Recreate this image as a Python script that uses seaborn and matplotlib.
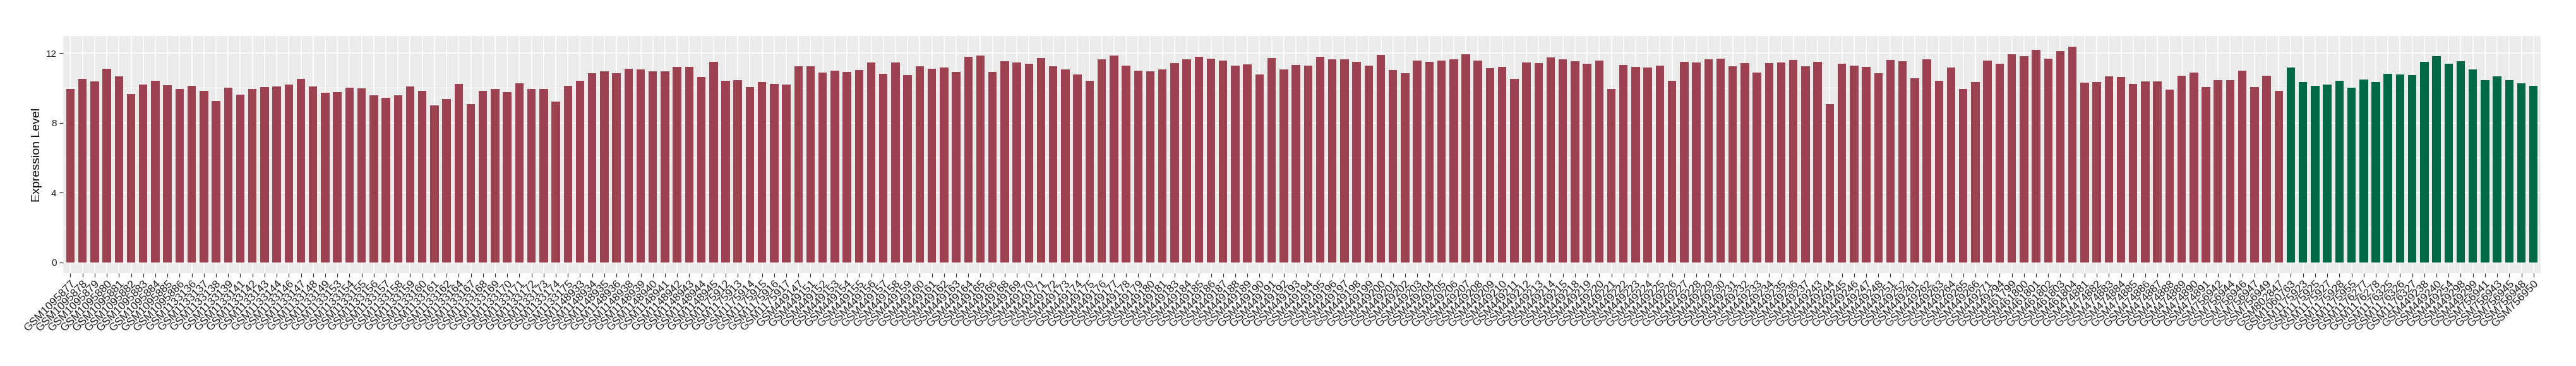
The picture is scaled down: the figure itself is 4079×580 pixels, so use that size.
import pandas as pd
import numpy as np
import matplotlib
matplotlib.use("Agg")
import matplotlib.pyplot as plt
import matplotlib.ticker as mticker
import seaborn as sns

# sample names, first group (red) then second group (green)
red_samples = [
    "GSM1095877", "GSM1095878", "GSM1095879", "GSM1095880", "GSM1095881",
    "GSM1095882", "GSM1095883", "GSM1095884", "GSM1095885", "GSM1095886",
    "GSM1133136", "GSM1133137", "GSM1133138", "GSM1133139", "GSM1133141",
    "GSM1133142", "GSM1133143", "GSM1133144", "GSM1133146", "GSM1133147",
    "GSM1133148", "GSM1133149", "GSM1133153", "GSM1133154", "GSM1133155",
    "GSM1133156", "GSM1133157", "GSM1133158", "GSM1133159", "GSM1133160",
    "GSM1133161", "GSM1133162", "GSM1133164", "GSM1133167", "GSM1133168",
    "GSM1133169", "GSM1133170", "GSM1133171", "GSM1133172", "GSM1133173",
    "GSM1133174", "GSM1133175", "GSM1148933", "GSM1148934", "GSM1148935",
    "GSM1148936", "GSM1148938", "GSM1148939", "GSM1148940", "GSM1148941",
    "GSM1148942", "GSM1148943", "GSM1148944", "GSM1148945", "GSM1175912",
    "GSM1175913", "GSM1175914", "GSM1175915", "GSM1175916", "GSM1175917",
    "GSM449147", "GSM449151", "GSM449152", "GSM449153", "GSM449154",
    "GSM449155", "GSM449156", "GSM449157", "GSM449158", "GSM449159",
    "GSM449160", "GSM449161", "GSM449162", "GSM449163", "GSM449164",
    "GSM449165", "GSM449166", "GSM449168", "GSM449169", "GSM449170",
    "GSM449171", "GSM449172", "GSM449173", "GSM449174", "GSM449175",
    "GSM449176", "GSM449177", "GSM449178", "GSM449179", "GSM449180",
    "GSM449181", "GSM449183", "GSM449184", "GSM449185", "GSM449186",
    "GSM449187", "GSM449188", "GSM449189", "GSM449190", "GSM449191",
    "GSM449192", "GSM449193", "GSM449194", "GSM449195", "GSM449196",
    "GSM449197", "GSM449198", "GSM449199", "GSM449200", "GSM449201",
    "GSM449202", "GSM449203", "GSM449204", "GSM449205", "GSM449206",
    "GSM449207", "GSM449208", "GSM449209", "GSM449210", "GSM449211",
    "GSM449212", "GSM449213", "GSM449214", "GSM449215", "GSM449218",
    "GSM449219", "GSM449220", "GSM449221", "GSM449222", "GSM449223",
    "GSM449224", "GSM449225", "GSM449226", "GSM449227", "GSM449228",
    "GSM449229", "GSM449230", "GSM449231", "GSM449232", "GSM449233",
    "GSM449234", "GSM449235", "GSM449236", "GSM449237", "GSM449243",
    "GSM449244", "GSM449245", "GSM449246", "GSM449247", "GSM449248",
    "GSM449251", "GSM449252", "GSM449261", "GSM449262", "GSM449263",
    "GSM449264", "GSM449265", "GSM449266", "GSM449271", "GSM449294",
    "GSM461799", "GSM461800", "GSM461801", "GSM461802", "GSM461803",
    "GSM461804", "GSM474881", "GSM474882", "GSM474883", "GSM474884",
    "GSM474885", "GSM474886", "GSM474887", "GSM474888", "GSM474889",
    "GSM474890", "GSM474891", "GSM756942", "GSM756944", "GSM756946",
    "GSM756947", "GSM756949", "GSM802847",
]
red_values = [
    9.95, 10.53, 10.38, 11.10, 10.68, 9.66, 10.21, 10.42, 10.17, 9.95,
    10.13, 9.85, 9.26, 10.02, 9.62, 9.95, 10.05, 10.08, 10.19, 10.52,
    10.08, 9.72, 9.76, 10.01, 9.98, 9.58, 9.43, 9.58, 10.08, 9.83,
    9.00, 9.36, 10.23, 9.07, 9.83, 9.94, 9.76, 10.27, 9.94, 9.94,
    9.22, 10.12, 10.41, 10.84, 10.95, 10.84, 11.10, 11.06, 10.95, 10.95,
    11.20, 11.20, 10.63, 11.49, 10.41, 10.45, 10.05, 10.34, 10.23, 10.19,
    11.24, 11.24, 10.88, 10.99, 10.92, 11.02, 11.46, 10.81, 11.46, 10.73,
    11.24, 11.10, 11.17, 10.92, 11.78, 11.86, 10.92, 11.53, 11.46, 11.39,
    11.71, 11.24, 11.06, 10.77, 10.41, 11.64, 11.86, 11.28, 10.99, 10.95,
    11.06, 11.42, 11.64, 11.78, 11.67, 11.57, 11.28, 11.35, 10.77, 11.71,
    11.06, 11.31, 11.28, 11.78, 11.64, 11.64, 11.49, 11.28, 11.89, 11.02,
    10.84, 11.57, 11.49, 11.57, 11.64, 11.93, 11.57, 11.13, 11.20, 10.52,
    11.46, 11.42, 11.75, 11.64, 11.53, 11.39, 11.57, 9.94, 11.31, 11.20,
    11.17, 11.28, 10.41, 11.49, 11.46, 11.64, 11.67, 11.24, 11.42, 10.88,
    11.42, 11.46, 11.60, 11.24, 11.49, 9.07, 11.39, 11.28, 11.20, 10.84,
    11.60, 11.53, 10.55, 11.64, 10.41, 11.17, 9.94, 10.34, 11.57, 11.39,
    11.93, 11.82, 12.18, 11.67, 12.11, 12.36, 10.30, 10.34, 10.66, 10.63,
    10.23, 10.37, 10.37, 9.90, 10.70, 10.88, 10.05, 10.45, 10.45, 10.99,
    10.05, 10.70, 9.84,
]

green_samples = [
    "GSM1060763", "GSM1175923", "GSM1175925", "GSM1175927", "GSM1175928",
    "GSM1175955", "GSM1176277", "GSM1176278", "GSM1176325", "GSM1176326",
    "GSM1176327", "GSM449238", "GSM449240", "GSM449254", "GSM449298",
    "GSM449299", "GSM756941", "GSM756943", "GSM756945", "GSM756948",
    "GSM756950",
]
green_values = [
    11.18, 10.35, 10.13, 10.21, 10.42, 10.02, 10.49, 10.35, 10.82, 10.78,
    10.74, 11.50, 11.83, 11.40, 11.54, 11.08, 10.46, 10.68, 10.46, 10.27,
    10.13,
]

red_color = "#9C4251"
green_color = "#006747"

df = pd.DataFrame({
    "sample": red_samples + green_samples,
    "value": red_values + green_values,
    "group": ["A"] * len(red_samples) + ["B"] * len(green_samples),
})

fig = plt.figure(figsize=(40.8, 5.8), dpi=100)
ax = fig.add_axes([0.0245, 0.2534, 0.9616, 0.6483])

sns.barplot(data=df, x="sample", y="value", hue="group",
            order=list(df["sample"]),
            palette={"A": red_color, "B": green_color},
            width=0.7, dodge=False, saturation=1, legend=False, ax=ax)

# ggplot-like grey panel
ax.set_facecolor("#EBEBEB")
for s in ax.spines.values():
    s.set_visible(False)
ax.set_axisbelow(True)
ax.set_yticks([0, 4, 8, 12])
ax.yaxis.set_minor_locator(mticker.FixedLocator([2, 6, 10]))
ax.grid(True, which="major", color="white", linewidth=1.2)
ax.grid(True, which="minor", axis="y", color="white", linewidth=0.6)
ax.tick_params(axis="y", which="minor", length=0)

ax.set_xlim(-0.6, len(df) - 0.4)
ax.set_ylim(-0.618, 12.98)

font = "Liberation Sans"
ax.tick_params(axis="both", which="major", length=4, width=0.9, color="#333333",
               labelcolor="#1A1A1A")
ax.tick_params(axis="y", labelsize=11)
ax.tick_params(axis="x", labelsize=12.5, pad=2)
for lab in ax.get_yticklabels():
    lab.set_fontfamily(font)
plt.setp(ax.get_xticklabels(), rotation=45, ha="right", va="top",
         rotation_mode="anchor", fontfamily=font)

ax.set_xlabel("")
ax.set_ylabel("Expression Level", fontsize=14, fontfamily=font, labelpad=4)

fig.savefig("out.png", dpi=100)
